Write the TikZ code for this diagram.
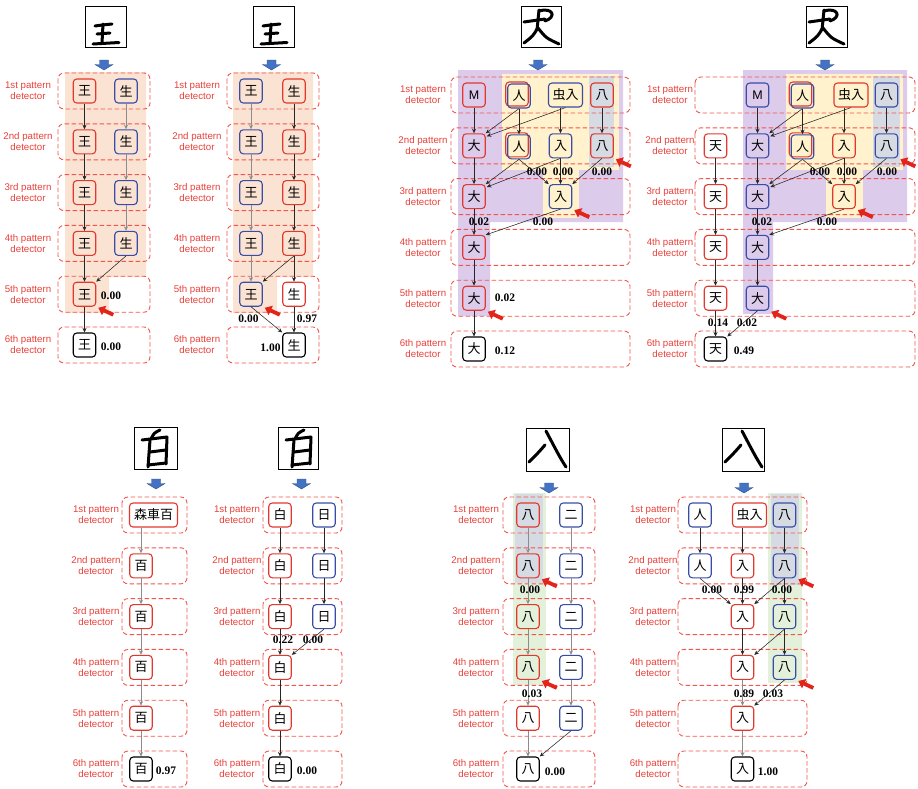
\documentclass[tikz,border=0pt]{standalone}
\usepackage{fontspec}
\setmainfont{Liberation Sans}
\newfontfamily\cjkf{Noto Sans CJK JP}
\newfontfamily\numf{Liberation Serif}
\usetikzlibrary{arrows.meta}
\definecolor{rowred}{HTML}{F2554E}
\definecolor{lblred}{HTML}{E8413A}
\definecolor{nred}{HTML}{E2392F}
\definecolor{nblue}{HTML}{3A4DA6}
\definecolor{peach}{HTML}{FBE3D3}
\definecolor{lav}{HTML}{DCCBEB}
\definecolor{cream}{HTML}{FFF2CC}
\definecolor{grayb}{HTML}{D5DAE3}
\definecolor{greenb}{HTML}{E3F0DA}
\definecolor{barblue}{HTML}{4472C4}
\definecolor{ptrred}{HTML}{E3241B}
\tikzset{
 rowbox/.style={draw=rowred, dash pattern=on 4.5pt off 2.5pt, rounded corners=6pt, line width=0.9pt},
 lbl/.style={text=lblred, font=\fontsize{9.7}{11}\selectfont, align=center, inner sep=0pt},
 nd/.style={rounded corners=3.5pt, minimum width=22.5pt, minimum height=24pt, inner sep=0pt, line width=1.1pt, font=\cjkf\fontsize{13}{13}\selectfont},
 rn/.style={nd, draw=nred}, bn/.style={nd, draw=nblue}, kn/.style={nd, draw=black},
 wide/.style={minimum width=34pt},
 latin/.style={font=\fontsize{12.5}{13}\selectfont},
 num/.style={font=\numf\bfseries\fontsize{11.5}{12}\selectfont, inner sep=0pt},
 arr/.style={draw=black!85, line width=0.55pt, -{Stealth[length=4.5pt,width=4pt]}},
 garr/.style={arr, draw=black!45},
 ptr/.style={draw=ptrred, line width=3.8pt, -{Triangle[length=6.5pt,width=10pt]}},
 imgbox/.style={draw=black, line width=0.8pt},
 ink/.style={line width=3pt, line cap=round, line join=round},
 barrow/.style={fill=barblue, draw=barblue!70!black, line width=0.4pt},
}
\newcommand\barr[2]{\draw[barrow] (#1-4.5,#2) -- (#1+4.5,#2) -- (#1+4.5,#2+4.5) -- (#1+9,#2+4.5) -- (#1,#2+10) -- (#1-9,#2+4.5) -- (#1-4.5,#2+4.5) -- cycle;}
\newcommand\ptrto[1]{\draw[ptr] ([shift={(17,8)}]#1.south east) -- ([shift={(2,1)}]#1.south east);}
\newcommand\detrows[5]{%
 \foreach \ordn [count=\i] in {1st,2nd,3rd,4th,5th,6th}{
   \pgfmathsetmacro\yy{#5+50.8*(\i-1)}
   \draw[rowbox] (#2,\yy-18) rectangle (#3,\yy+18);
   \node[lbl] (#1L\i) at (#4,\yy) {\ordn\ pattern\\detector};
 }}
\newcommand\inkwang[4]{\begin{scope}[shift={(#1,#2)}]
 \draw[imgbox] (0,0) rectangle (#3,#4);
 \draw[ink] (10,20) .. controls (17,19) .. (27,18);
 \draw[ink] (18,18) -- (17,37);
 \draw[ink] (12,28) -- (25,27);
 \draw[ink] (8,38) -- (34,36.5);
 \end{scope}}
\newcommand\inkda[4]{\begin{scope}[shift={(#1,#2)}]
 \draw[imgbox] (0,0) rectangle (#3,#4);
 \draw[ink] (18,5) .. controls (32,1) and (36,11) .. (24,15);
 \draw[ink] (18,4) -- (16,24);
 \draw[ink] (3,16) -- (24,13);
 \draw[ink] (16,23) .. controls (12,30) .. (3,37);
 \draw[ink] (17,22) .. controls (25,32) .. (38,38);
 \end{scope}}
\newcommand\inkbai[4]{\begin{scope}[shift={(#1,#2)}]
 \draw[imgbox] (0,0) rectangle (#3,#4);
 \draw[ink] (26,3) .. controls (20,6) .. (17,12);
 \draw[ink] (8,13) -- (33,10);
 \draw[ink] (16,13) -- (14,40);
 \draw[ink] (33,10) -- (32,37);
 \draw[ink] (16,25) -- (32,23);
 \draw[ink] (14,38) -- (32,36);
 \end{scope}}
\newcommand\inkru[4]{\begin{scope}[shift={(#1,#2)}]
 \draw[imgbox] (0,0) rectangle (#3,#4);
 \draw[ink] (19,17) .. controls (12,25) .. (3,34);
 \draw[ink] (20,3) .. controls (28,18) and (34,30) .. (40,39);
 \end{scope}}
\begin{document}
\begin{tikzpicture}[x=1pt,y=-1pt]
\useasboundingbox (0,0) rectangle (918,788);
\fill[white] (0,0) rectangle (918,788);
% ---------- backgrounds ----------
\fill[peach] (65,72) -- (146,72) -- (146,277) -- (109,277) -- (109,313) -- (65,313) -- cycle;
\fill[peach] (233,72) -- (313,72) -- (313,277) -- (277,277) -- (277,313) -- (233,313) -- cycle;
\fill[lav] (458,70) -- (623,70) -- (623,222) -- (490,222) -- (490,316) -- (458,316) -- cycle;
\fill[cream] (502,74) rectangle (619,170);
\fill[cream] (543,170) rectangle (579,218);
\fill[grayb] (589,76) rectangle (614,167);
\fill[lav] (743,70) -- (907,70) -- (907,222) -- (773,222) -- (773,314) -- (743,314) -- cycle;
\fill[cream] (786,74) rectangle (903,170);
\fill[cream] (826,170) rectangle (863,218);
\fill[grayb] (873,76) rectangle (900,167);
\fill[greenb] (513,493) rectangle (546,685);
\fill[grayb] (515,494) rectangle (543,583);
\fill[greenb] (768,493) rectangle (802,683);
\fill[grayb] (771,494) rectangle (799,585);
% ---------- rows ----------
\detrows{p1}{58}{150}{28}{91}
\detrows{p2}{227}{319}{197}{91}
\detrows{p3}{451}{630}{423}{95}
\detrows{p4}{695}{915}{670}{95}
\detrows{p5}{122}{187}{96}{515}
\detrows{p6}{263}{342}{237}{515}
\detrows{p7}{503}{595}{476}{515}
\detrows{p8}{678}{807}{653}{515}
% ---------- input images and arrows ----------
\inkwang{85}{6}{41}{41}
\inkwang{253}{6}{41}{41}
\inkda{521}{6}{40}{41}
\inkda{806}{6}{41}{41}
\inkbai{134}{427}{43}{42}
\inkbai{278}{427}{40}{42}
\inkru{526}{428}{43}{43}
\inkru{722}{428}{42}{43}
\barr{104}{60}
\barr{271.5}{60}
\barr{538}{60}
\barr{825}{60}
\barr{156}{479}
\barr{301.5}{479}
\barr{549}{483}
\barr{744}{483}
% ---------- panel 1 ----------
\foreach \r/\y in {1/91,2/141.8,3/192.6,4/243.4} {\node[rn] (p1a\r) at (84.5,\y) {王}; \node[bn] (p1b\r) at (126,\y) {生};}
\node[rn] (p1a5) at (84.5,294.2) {王};
\node[kn] (p1a6) at (84.5,345) {王};
\foreach \r/\s in {1/2,2/3,3/4,4/5,5/6} \draw[arr] (p1a\r) -- (p1a\s);
\foreach \r/\s in {1/2,2/3,3/4} \draw[garr] (p1b\r) -- (p1b\s);
\draw[arr] (p1b4.south) -- (p1a5.north east);
\node[num] (p1n5) at (111,296) {0.00};
\node[num] (p1n6) at (111,347) {0.00};
\ptrto{p1a5}
% ---------- panel 2 ----------
\foreach \r/\y in {1/91,2/141.8,3/192.6,4/243.4,5/294.2} {\node[bn] (p2a\r) at (251,\y) {王}; \node[rn] (p2b\r) at (294,\y) {生};}
\node[kn] (p2b6) at (294,345) {生};
\foreach \r/\s in {1/2,2/3,3/4,4/5} \draw[garr] (p2a\r) -- (p2a\s);
\foreach \r/\s in {1/2,2/3,3/4,4/5,5/6} \draw[arr] (p2b\r) -- (p2b\s);
\draw[arr] (p2b4.south) -- (p2a5.north east);
\draw[arr] (p2a5.south) -- (p2b6.north west);
\node[num] (p2n1) at (248.5,319) {0.00};
\node[num] (p2n2) at (307,319) {0.97};
\node[num] (p2n3) at (270.5,348) {1.00};
\ptrto{p2a5}
% ---------- panel 3 ----------
\node[rn, latin] (p3a1) at (474,95) {M};
\node[rn] (p3b1r) at (517,94) {};
\node[bn] (p3b1) at (519,96) {人};
\node[bn, wide] (p3c1) at (565.5,95) {虫入};
\node[rn] (p3d1) at (602,95) {八};
\node[rn] (p3a2) at (474,145.8) {大};
\node[rn] (p3b2r) at (517,144.8) {};
\node[bn] (p3b2) at (519,146.8) {人};
\node[bn] (p3c2) at (560.5,145.8) {入};
\node[rn] (p3d2) at (602,145.8) {八};
\node[rn] (p3a3) at (474,196.6) {大};
\node[bn] (p3c3) at (560.5,196.6) {入};
\node[rn] (p3a4) at (474,247.4) {大};
\node[rn] (p3a5) at (474,298.2) {大};
\node[kn] (p3a6) at (474,349) {大};
\draw[arr] (p3a1) -- (p3a2);
\draw[arr] (p3b1.south) -- (p3a2.north east);
\draw[arr] (p3b1) -- (p3b2);
\draw[arr] (p3c1.south) -- ([shift={(1,3)}]p3a2.north east);
\draw[arr] (p3c1.south -| p3c2) -- (p3c2);
\draw[arr] (p3d1) -- (p3d2);
\draw[arr] (p3a2) -- (p3a3);
\draw[arr] (p3b2.south) -- (p3a3.north east);
\draw[arr] (p3c2.south) -- ([shift={(1,3)}]p3a3.north east);
\draw[arr] (p3b2.south) -- (p3c3.north west);
\draw[arr] (p3c2) -- (p3c3);
\draw[arr] (p3d2.south) -- (p3c3.north east);
\draw[arr] (p3a3) -- (p3a4);
\draw[arr] (p3c3.south) -- (p3a4.north east);
\draw[arr] (p3a4) -- (p3a5);
\draw[arr] (p3a5) -- (p3a6);
\node[num] (p3n1) at (537,172) {0.00};
\node[num] (p3n2) at (563,172) {0.00};
\node[num] (p3n3) at (602,172) {0.00};
\node[num] (p3n4) at (479,222) {0.02};
\node[num] (p3n5) at (543,222) {0.00};
\node[num] (p3n6) at (505,298) {0.02};
\node[num] (p3n7) at (505,351) {0.12};
\ptrto{p3d2}
\ptrto{p3c3}
\ptrto{p3a5}
% ---------- panel 4 ----------
\node[bn, latin] (p4a1) at (757.5,95) {M};
\node[rn] (p4b1r) at (800.5,94) {};
\node[bn] (p4b1) at (802.5,96) {人};
\node[rn, wide] (p4c1) at (851,95) {虫入};
\node[bn] (p4d1) at (886.5,95) {八};
\node[rn] (p4t2) at (715.5,145.8) {天};
\node[bn] (p4a2) at (757.5,145.8) {大};
\node[rn] (p4b2r) at (800.5,144.8) {};
\node[bn] (p4b2) at (802.5,146.8) {人};
\node[rn] (p4c2) at (844,145.8) {入};
\node[bn] (p4d2) at (886.5,145.8) {八};
\node[rn] (p4t3) at (715.5,196.6) {天};
\node[bn] (p4a3) at (757.5,196.6) {大};
\node[rn] (p4c3) at (844,196.6) {入};
\node[rn] (p4t4) at (715.5,247.4) {天};
\node[bn] (p4a4) at (757.5,247.4) {大};
\node[rn] (p4t5) at (715.5,298.2) {天};
\node[bn] (p4a5) at (757.5,298.2) {大};
\node[kn] (p4t6) at (715.5,349) {天};
\draw[arr] (p4a1) -- (p4a2);
\draw[arr] (p4b1.south) -- (p4a2.north east);
\draw[arr] (p4b1) -- (p4b2);
\draw[arr] (p4c1.south) -- ([shift={(1,3)}]p4a2.north east);
\draw[arr] (p4c1.south -| p4c2) -- (p4c2);
\draw[arr] (p4d1) -- (p4d2);
\draw[arr] (p4t2) -- (p4t3);
\draw[arr] (p4a2) -- (p4a3);
\draw[arr] (p4b2.south) -- (p4a3.north east);
\draw[arr] (p4c2.south) -- ([shift={(1,3)}]p4a3.north east);
\draw[arr] (p4b2.south) -- (p4c3.north west);
\draw[arr] (p4c2) -- (p4c3);
\draw[arr] (p4d2.south) -- (p4c3.north east);
\draw[arr] (p4t3) -- (p4t4);
\draw[arr] (p4a3) -- (p4a4);
\draw[arr] (p4c3.south) -- (p4a4.north east);
\draw[arr] (p4t4) -- (p4t5);
\draw[arr] (p4a4) -- (p4a5);
\draw[arr] (p4t5) -- (p4t6);
\draw[arr] (p4a5.south) -- (p4t6.north east);
\node[num] (p4n1) at (820,172) {0.00};
\node[num] (p4n2) at (847,172) {0.00};
\node[num] (p4n3) at (887,172) {0.00};
\node[num] (p4n4) at (762,222) {0.02};
\node[num] (p4n5) at (827,222) {0.00};
\node[num] (p4n6) at (718,323) {0.14};
\node[num] (p4n7) at (747,323) {0.02};
\node[num] (p4n8) at (744,351) {0.49};
\ptrto{p4d2}
\ptrto{p4c3}
\ptrto{p4a5}
% ---------- panel 5 ----------
\node[rn, minimum width=48pt] (p5a1) at (153.5,515) {森車百};
\foreach \r/\y in {2/565.8,3/616.6,4/667.4,5/718.2} \node[rn] (p5a\r) at (141,\y) {百};
\node[kn] (p5a6) at (141,769) {百};
\draw[garr] (p5a1.south -| p5a2) -- (p5a2);
\foreach \r/\s in {2/3,3/4,4/5,5/6} \draw[garr] (p5a\r) -- (p5a\s);
\node[num] (p5n1) at (166,771) {0.97};
% ---------- panel 6 ----------
\foreach \r/\y in {1/515,2/565.8,3/616.6} {\node[rn] (p6a\r) at (280,\y) {白}; \node[bn] (p6b\r) at (324,\y) {日};}
\node[rn] (p6a4) at (280,667.4) {白};
\node[rn] (p6a5) at (280,718.2) {白};
\node[kn] (p6a6) at (280,769) {白};
\foreach \r/\s in {1/2,2/3,3/4,4/5,5/6} \draw[arr] (p6a\r) -- (p6a\s);
\foreach \r/\s in {1/2,2/3} \draw[arr] (p6b\r) -- (p6b\s);
\draw[arr] (p6b3.south) -- (p6a4.north east);
\node[num] (p6n1) at (283,640) {0.22};
\node[num] (p6n2) at (313,640) {0.00};
\node[num] (p6n3) at (307,771) {0.00};
% ---------- panel 7 ----------
\foreach \r/\y in {1/515,2/565.8,3/616.6,4/667.4,5/718.2} {\node[rn] (p7a\r) at (528,\y) {八}; \node[bn] (p7b\r) at (571,\y) {二};}
\node[kn] (p7a6) at (528,769) {八};
\foreach \r/\s in {1/2,2/3,3/4,4/5,5/6} \draw[garr] (p7a\r) -- (p7a\s);
\foreach \r/\s in {1/2,2/3,3/4,4/5} \draw[garr] (p7b\r) -- (p7b\s);
\draw[arr] (p7b5.south) -- (p7a6.north east);
\node[num] (p7n1) at (530,590) {0.00};
\node[num] (p7n2) at (532,694) {0.03};
\node[num] (p7n3) at (555,772) {0.00};
\ptrto{p7a2}
\ptrto{p7a4}
% ---------- panel 8 ----------
\node[bn] (p8b1) at (700,515) {人};
\node[rn, wide] (p8c1) at (749.5,515) {虫入};
\node[bn] (p8d1) at (784.5,515) {八};
\node[bn] (p8b2) at (700,565.8) {人};
\node[rn] (p8c2) at (742.5,565.8) {入};
\node[bn] (p8d2) at (784.5,565.8) {八};
\node[rn] (p8c3) at (742.5,616.6) {入};
\node[bn] (p8d3) at (784.5,616.6) {八};
\node[rn] (p8c4) at (742.5,667.4) {入};
\node[bn] (p8d4) at (784.5,667.4) {八};
\node[rn] (p8c5) at (742.5,718.2) {入};
\node[kn] (p8c6) at (742.5,769) {入};
\draw[arr] (p8b1) -- (p8b2);
\draw[arr] (p8c1.south -| p8c2) -- (p8c2);
\draw[arr] (p8d1) -- (p8d2);
\draw[arr] (p8b2.south) -- (p8c3.north west);
\draw[arr] (p8c2) -- (p8c3);
\draw[arr] (p8d2.south) -- (p8c3.north east);
\draw[arr] (p8d2) -- (p8d3);
\draw[arr] (p8c3) -- (p8c4);
\draw[arr] (p8d3.south) -- (p8c4.north east);
\draw[arr] (p8d3) -- (p8d4);
\draw[garr] (p8c4) -- (p8c5);
\draw[arr] (p8d4.south) -- (p8c5.north east);
\draw[garr] (p8c5) -- (p8c6);
\node[num] (p8n1) at (712,590) {0.00};
\node[num] (p8n2) at (744,590) {0.99};
\node[num] (p8n3) at (782,590) {0.00};
\node[num] (p8n4) at (744,694) {0.89};
\node[num] (p8n5) at (773,694) {0.03};
\node[num] (p8n6) at (768,772) {1.00};
\ptrto{p8d2}
\ptrto{p8d4}
\end{tikzpicture}
\end{document}
